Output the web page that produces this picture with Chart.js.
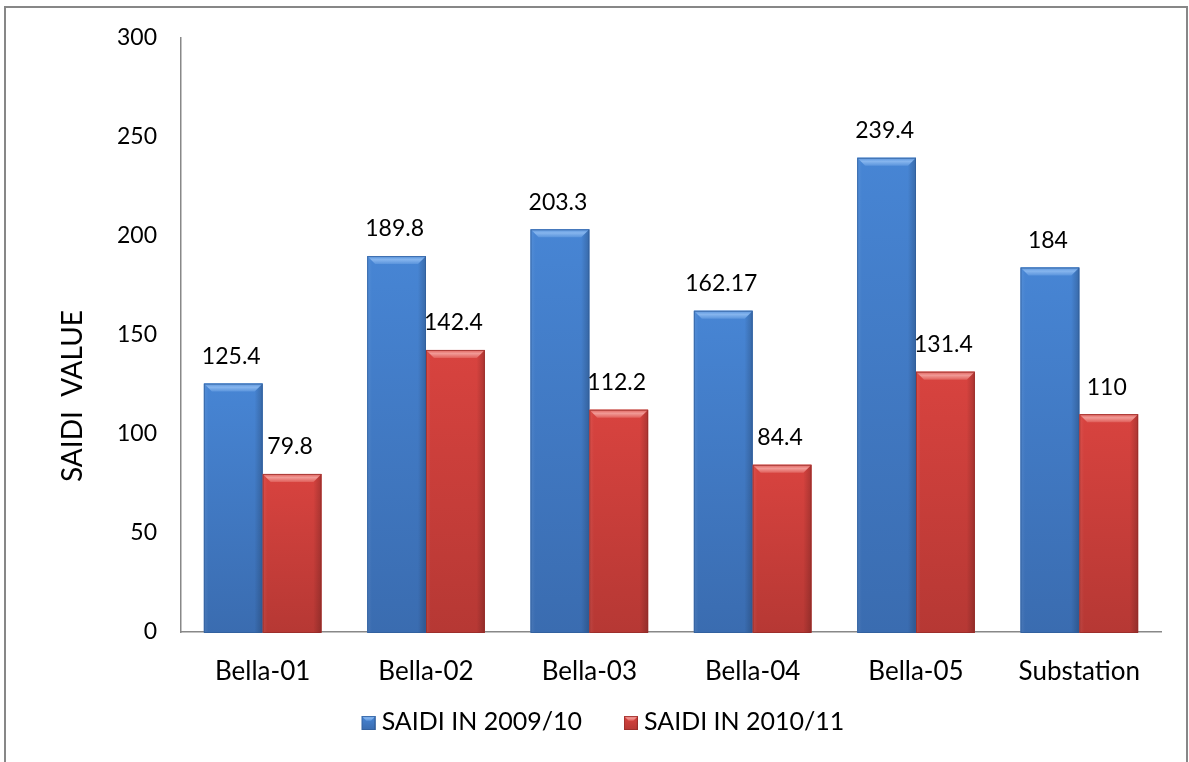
<!DOCTYPE html>
<html>
<head>
<meta charset="utf-8">
<title>SAIDI</title>
<script src="https://cdn.jsdelivr.net/npm/chart.js@4.4.1/dist/chart.umd.min.js"></script>
<style>
  body { margin: 0; background: #fff; }
</style>
</head>
<body>
<canvas id="canvas" width="1189" height="762"></canvas>
<script>
var feeders = ['Bella-01', 'Bella-02', 'Bella-03', 'Bella-04', 'Bella-05', 'Substation'];
var saidi0910 = [125.4, 189.8, 203.3, 162.17, 239.4, 184];
var saidi1011 = [79.8, 142.4, 112.2, 84.4, 131.4, 110];
var seriesNames = ['SAIDI IN 2009/10', 'SAIDI IN 2010/11'];
var yTitle = 'SAIDI  VALUE';
var yMax = 300, yStep = 50;

var FONT = 'Lato, "Liberation Sans", sans-serif';

// shades used for the bevelled bars
var shades = [
  { hi: '#86b5ee', light: '#5a94dc', top: '#4785d4', bottom: '#3a6cb0', dark: '#2f5d98' },
  { hi: '#f19a96', light: '#e0605b', top: '#d8433f', bottom: '#b63834', dark: '#932b28' }
];

function bevel(ctx, l, t, r, b, s, bw) {
  var w = r - l, h = b - t;
  if (w <= 0 || h <= 0) return;
  bw = Math.min(bw, w / 3, h / 2);
  var g = ctx.createLinearGradient(0, t, 0, b);
  g.addColorStop(0, s.top);
  g.addColorStop(1, s.bottom);
  ctx.fillStyle = g;
  ctx.fillRect(l, t, w, h);
  // side shading
  var hg = ctx.createLinearGradient(l, 0, r, 0);
  hg.addColorStop(0, 'rgba(255,255,255,0.08)');
  hg.addColorStop(0.08, 'rgba(255,255,255,0.0)');
  hg.addColorStop(0.86, 'rgba(0,0,0,0.0)');
  hg.addColorStop(1, 'rgba(0,0,0,0.2)');
  ctx.fillStyle = hg;
  ctx.fillRect(l, t, w, h);
  // top facet
  var tg = ctx.createLinearGradient(0, t, 0, t + bw);
  tg.addColorStop(0, s.light);
  tg.addColorStop(0.45, s.hi);
  tg.addColorStop(1, s.light);
  ctx.beginPath();
  ctx.moveTo(l, t); ctx.lineTo(r, t); ctx.lineTo(r - bw, t + bw); ctx.lineTo(l + bw, t + bw); ctx.closePath();
  ctx.fillStyle = tg;
  ctx.fill();
  // thin outline
  ctx.strokeStyle = s.dark;
  ctx.globalAlpha = 0.7;
  ctx.lineWidth = 1;
  ctx.strokeRect(l + 0.5, t + 0.5, w - 1, h - 1);
  ctx.globalAlpha = 1;
}

var frame = {
  id: 'frame',
  beforeDraw: function (chart) {
    var ctx = chart.ctx;
    ctx.save();
    ctx.strokeStyle = '#878787';
    ctx.lineWidth = 2;
    ctx.beginPath();
    ctx.moveTo(5, 800); ctx.lineTo(5, 7); ctx.lineTo(1187, 7); ctx.lineTo(1187, 800);
    ctx.stroke();
    // rotated axis title, sitting a little below the middle of the plot
    ctx.translate(73, 396);
    ctx.rotate(-Math.PI / 2);
    ctx.font = '28px ' + FONT;
    ctx.fillStyle = '#000';
    ctx.textAlign = 'center';
    ctx.textBaseline = 'middle';
    ctx.fillText(yTitle, 0, 0);
    ctx.restore();
  }
};

var barLook = {
  id: 'barLook',
  afterDatasetsDraw: function (chart) {
    var ctx = chart.ctx;
    ctx.save();
    chart.data.datasets.forEach(function (ds, i) {
      var meta = chart.getDatasetMeta(i);
      meta.data.forEach(function (bar, j) {
        var l = bar.x - bar.width / 2, r = bar.x + bar.width / 2;
        bevel(ctx, l, bar.y, r, bar.base + 1, shades[i], 8);
        ctx.fillStyle = '#000';
        ctx.font = '23px ' + FONT;
        ctx.textAlign = 'center';
        ctx.textBaseline = 'middle';
        ctx.fillText(String(ds.data[j]), bar.x - 2, bar.y - 27);
      });
    });
    ctx.restore();
  }
};

var legendRow = {
  id: 'legendRow',
  afterDraw: function (chart) {
    var ctx = chart.ctx;
    ctx.save();
    ctx.font = '25px ' + FONT;
    ctx.textBaseline = 'middle';
    ctx.textAlign = 'left';
    var box = 14, gap = 6, spacing = 42, y = 722;
    var widths = seriesNames.map(function (n) { return box + gap + ctx.measureText(n).width; });
    var total = widths[0] + widths[1] + spacing;
    var x = 603 - total / 2;
    seriesNames.forEach(function (n, i) {
      bevel(ctx, x, y - box / 2 + 1, x + box, y + box / 2 + 1, shades[i], 5);
      ctx.fillStyle = '#000';
      ctx.fillText(n, x + box + gap, y);
      x += widths[i] + spacing;
    });
    ctx.restore();
  }
};

new Chart(document.getElementById('canvas'), {
  type: 'bar',
  data: {
    labels: feeders,
    datasets: [
      { label: seriesNames[0], data: saidi0910, backgroundColor: shades[0].top },
      { label: seriesNames[1], data: saidi1011, backgroundColor: shades[1].top }
    ]
  },
  options: {
    responsive: false,
    animation: false,
    events: [],
    datasets: { bar: { categoryPercentage: 0.72, barPercentage: 1.0 } },
    layout: { padding: { left: 0, top: 37, right: 28, bottom: 0 } },
    plugins: { legend: { display: false }, tooltip: { enabled: false } },
    scales: {
      x: {
        grid: { display: false, drawTicks: false },
        border: { color: '#888', width: 1.5 },
        ticks: { color: '#000', font: { family: FONT, size: 26 }, padding: 24 },
        afterFit: function (s) { s.height = 130; }
      },
      y: {
        min: 0, max: yMax,
        grid: { display: false, drawTicks: false },
        border: { color: '#888', width: 1.5 },
        ticks: { stepSize: yStep, color: '#000', font: { family: FONT, size: 23 }, padding: 24 },
        afterFit: function (s) { s.width = 181; }
      }
    }
  },
  plugins: [frame, barLook, legendRow]
});
</script>
</body>
</html>
